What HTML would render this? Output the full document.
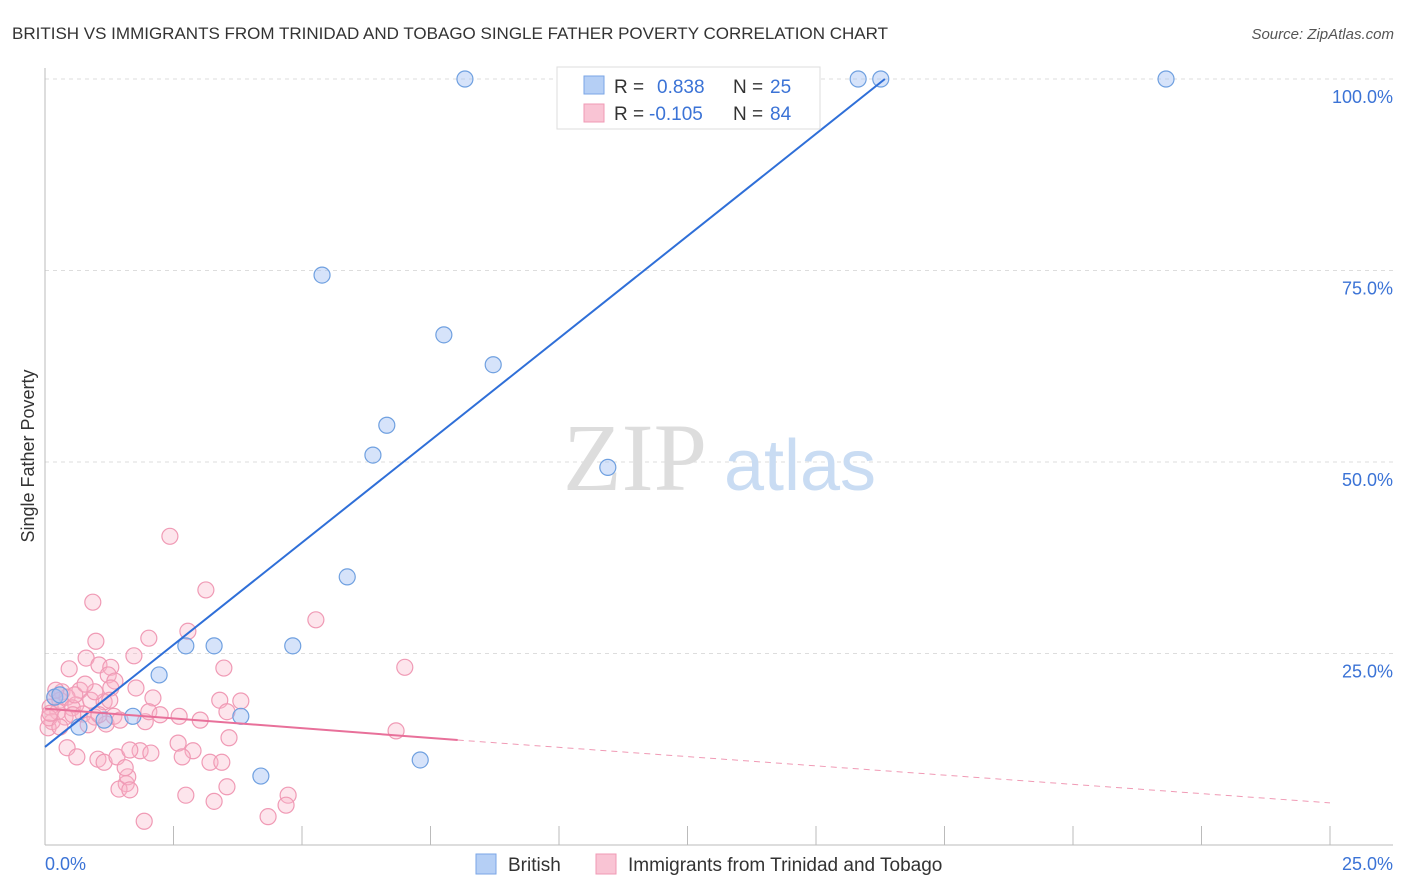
<!DOCTYPE html>
<html><head><meta charset="utf-8"><style>
body{margin:0;background:#fff;font-family:"Liberation Sans",sans-serif}
svg{display:block}
</style></head><body>
<svg width="1406" height="892" viewBox="0 0 1406 892">
<text x="12" y="39" font-size="17" fill="#333">BRITISH VS IMMIGRANTS FROM TRINIDAD AND TOBAGO SINGLE FATHER POVERTY CORRELATION CHART</text>
<text x="1394" y="39" font-size="15" fill="#555" font-style="italic" text-anchor="end">Source: ZipAtlas.com</text>
<g id="grid"></g>
<g>
<text x="635" y="490" font-size="96" font-family="Liberation Serif,serif" fill="#ddd" text-anchor="middle">ZIP</text>
<text x="800" y="490" font-size="72" fill="#c9dcf3" text-anchor="middle">atlas</text>
</g>
<line x1="45" y1="68" x2="45" y2="845" stroke="#bbb"/>
<line x1="45" y1="845" x2="1393" y2="845" stroke="#bbb"/>
<g id="ticks"></g>
<g id="ylabels"></g>
<text x="45" y="870" font-size="18" fill="#3b73d6">0.0%</text>
<text x="1393" y="870" font-size="18" fill="#3b73d6" text-anchor="end">25.0%</text>
<text transform="translate(34,456) rotate(-90)" font-size="18" fill="#333" text-anchor="middle">Single Father Poverty</text>
<g id="pink"></g>
<g id="blue"></g>
<g id="lines"></g>
<g>
<rect x="557" y="67" width="263" height="62" fill="#fff" stroke="#ddd"/>
<rect x="584" y="76" width="20" height="18" fill="#b5cff5" stroke="#7aa6e6"/>
<text x="614" y="93" font-size="19" fill="#333">R = </text><text x="657" y="93" font-size="19" fill="#3b73d6">0.838</text>
<text x="733" y="93" font-size="19" fill="#333">N = </text><text x="770" y="93" font-size="19" fill="#3b73d6">25</text>
<rect x="584" y="104" width="20" height="18" fill="#f9c4d4" stroke="#f09ab5"/>
<text x="614" y="120" font-size="19" fill="#333">R = </text><text x="649" y="120" font-size="19" fill="#3b73d6">-0.105</text>
<text x="733" y="120" font-size="19" fill="#333">N = </text><text x="770" y="120" font-size="19" fill="#3b73d6">84</text>
</g>
<g>
<rect x="476" y="854" width="20" height="20" fill="#b5cff5" stroke="#7aa6e6"/>
<text x="508" y="871" font-size="19" fill="#333">British</text>
<rect x="596" y="854" width="20" height="20" fill="#f9c4d4" stroke="#f09ab5"/>
<text x="628" y="871" font-size="19" fill="#333">Immigrants from Trinidad and Tobago</text>
</g>
</svg>
<script>
const yTicks=[25,50,75,100];
const yTickLabels=["25.0%","50.0%","75.0%","100.0%"];
const xTicks=[0,2.5,5,7.5,10,12.5,15,17.5,20,22.5,25];
const britishX=[8.17,10.23,13.35,15.82,16.26,21.81,5.39,7.76,8.72,6.65,6.38,10.95,5.88,2.74,3.29,4.82,2.22,0.19,1.71,3.81,0.66,1.15,7.30,4.20,0.29];
const britishY=[100,100,100,100,100,100,74.4,66.6,62.7,54.8,50.9,49.3,35.0,26.0,26.0,26.0,22.2,19.3,16.8,16.8,15.4,16.3,11.1,9.0,19.6];
const trinX=[2.43,0.93,3.13,5.27,2.78,0.99,2.02,7.00,3.48,0.47,0.80,1.05,1.28,1.73,1.23,1.36,0.68,0.33,0.19,0.29,0.43,0.60,0.89,1.15,1.28,1.77,2.10,3.40,3.81,0.10,0.25,0.53,0.74,0.97,1.19,1.34,1.95,2.02,2.61,3.54,0.14,0.06,0.84,0.43,1.03,0.62,1.15,1.40,1.85,2.06,2.59,2.88,2.67,3.21,3.44,3.58,6.83,1.58,1.44,1.61,1.65,2.74,3.29,3.54,4.73,4.69,4.34,1.93,0.21,0.39,0.08,0.54,1.05,1.65,1.26,1.46,0.29,0.97,0.58,0.78,0.10,1.56,2.24,3.02];
const trinY=[40.3,31.7,33.3,29.4,27.9,26.6,27.0,23.2,23.1,23.0,24.4,23.5,23.2,24.7,22.2,21.4,20.2,20.0,19.3,18.9,19.3,18.3,18.9,18.7,20.5,20.5,19.2,18.9,18.8,18.0,17.4,17.9,17.1,16.7,15.8,16.8,16.1,17.4,16.8,17.4,16.1,15.3,15.7,12.7,11.2,11.5,10.8,11.5,12.3,12.0,13.3,12.3,11.5,10.8,10.8,14.0,14.9,8.0,7.3,8.9,7.2,6.5,5.7,7.6,6.5,5.2,3.7,3.1,20.2,16.7,16.6,17.0,17.0,12.4,18.9,16.3,15.4,20.0,19.6,21.0,17.2,10.1,17.0,16.3];
const britishFit=[12.8,100]; // y at x=0 and x=16.34
const britishFitX=[0,16.34];
const trinFitX=[0,8.03,25];
const trinFitY=[17.8,13.7,5.5];
const NS="http://www.w3.org/2000/svg";
const sx=v=>45+v/25*1285;
const sy=v=>845-v/100*766;
function mk(tag,attrs,parent){const e=document.createElementNS(NS,tag);for(const k in attrs)e.setAttribute(k,attrs[k]);parent.appendChild(e);return e;}
const grid=document.getElementById('grid'),ylab=document.getElementById('ylabels'),ticks=document.getElementById('ticks');
yTicks.forEach((t,i)=>{
 const l=mk('line',{x1:45,x2:1393,y1:sy(t),y2:sy(t),stroke:'#ddd','stroke-dasharray':'4,4'},grid);
 
 
 const tx=mk('text',{x:1393,y:sy(t)+24,'font-size':18,fill:'#3b73d6','text-anchor':'end'},ylab);
 tx.textContent=yTickLabels[i];
 
 
});
xTicks.forEach(t=>{
 const l=mk('line',{x1:sx(t),x2:sx(t),y1:826,y2:845,stroke:'#bbb'},ticks);
 
 
});
const pink=document.getElementById('pink'),blue=document.getElementById('blue'),lines=document.getElementById('lines');
trinX.forEach((x,i)=>{
 const c=mk('circle',{cx:sx(x),cy:sy(trinY[i]),r:8,fill:'rgba(248,180,200,0.35)',stroke:'#f09ab5','stroke-width':1.2},pink);
 
 
});
britishX.forEach((x,i)=>{
 const c=mk('circle',{cx:sx(x),cy:sy(britishY[i]),r:8,fill:'rgba(164,194,244,0.45)',stroke:'#6fa0e0','stroke-width':1.2},blue);
 
 
});
const bl=mk('line',{x1:sx(britishFitX[0]),y1:sy(britishFit[0]),x2:sx(britishFitX[1]),y2:sy(britishFit[1]),stroke:'#2f6fd8','stroke-width':2},lines);


const pl=mk('line',{x1:sx(trinFitX[0]),y1:sy(trinFitY[0]),x2:sx(trinFitX[1]),y2:sy(trinFitY[1]),stroke:'#e8709a','stroke-width':2},lines);


const pd=mk('line',{x1:sx(trinFitX[1]),y1:sy(trinFitY[1]),x2:sx(trinFitX[2]),y2:sy(trinFitY[2]),stroke:'#f09ab5','stroke-width':1,'stroke-dasharray':'6,5'},lines);


</script>
</body></html>
